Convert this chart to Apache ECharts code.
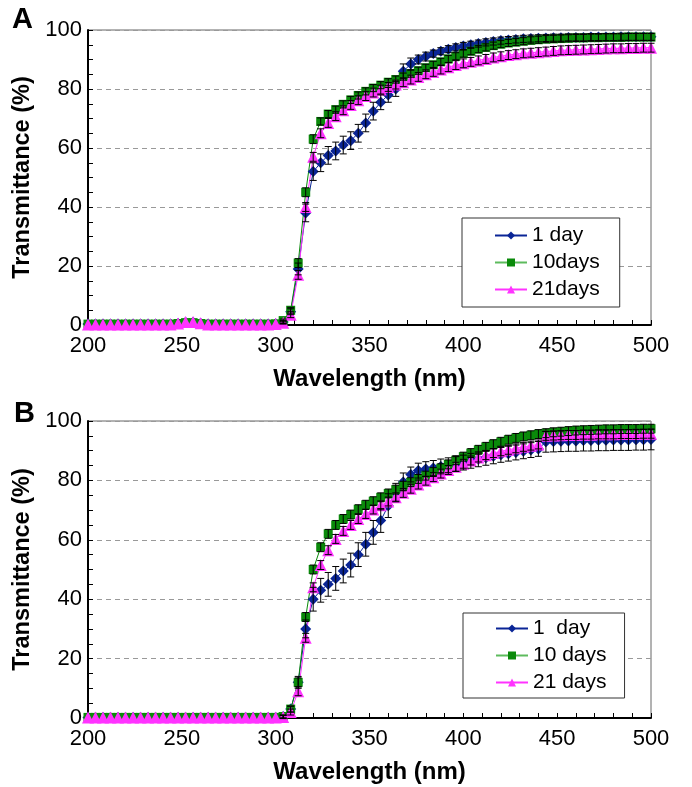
<!DOCTYPE html>
<html><head><meta charset="utf-8">
<script src="https://cdn.jsdelivr.net/npm/echarts@6/dist/echarts.min.js"></script>
<style>html,body{margin:0;padding:0;background:#fff}#c{width:692px;height:787px}</style>
</head><body><div id="c"></div>
<script>
const wavelength = [200,204,208,212,216,220,224,228,232,236,240,244,248,252,256,260,264,268,272,276,280,284,288,292,296,300,
 304,308,312,316,320,324,328,332,336,340,344,348,352,356,360,364,368,372,376,380,384,388,392,396,400,404,408,412,416,420,424,428,432,436,440,444,448,452,456,460,464,468,472,476,480,484,488,492,496,500];

// Panel A
const aDay1 = [0.3,0.3,0.3,0.3,0.3,0.3,0.3,0.3,0.3,0.3,0.3,0.3,0.5,0.9,0.9,0.6,0.3,0.3,0.3,0.3,0.3,0.3,0.3,0.3,0.3,0.4,
 1,4.5,19,38,52, 55,57.5,59,61,62.5,65,68.5,72.5,75.5,78, 80,86,88.5,90,91,92,92.8,93.5,94.1,94.6,
 95,95.4,95.8,96.1,96.4,96.6,96.8,97,97.1,97.2, 97.3,97.4,97.4,97.5,97.5,97.5,97.6,97.6,97.6,97.6, 97.7,97.7,97.7,97.7,97.7];
const aDay10 = [0.3,0.3,0.3,0.3,0.3,0.3,0.3,0.3,0.3,0.3,0.3,0.3,0.5,0.8,0.8,0.5,0.3,0.3,0.3,0.3,0.3,0.3,0.3,0.3,0.3,0.4,
 1.5,5,21,45,63, 69,71.5,73,74.8,76.3,77.8,79.2,80.3,81.3,82.3, 83.2,84.2,85.2,86.2,87.2,88.2,89.2,90.2,91.1,92,
 92.8,93.5,94.1,94.7,95.2,95.6,95.9,96.2,96.5,96.7, 96.9,97,97.1,97.2,97.3,97.3,97.4,97.4,97.5,97.5, 97.5,97.6,97.6,97.6,97.6];
const aDay21 = [0.2,0.2,0.2,0.2,0.2,0.2,0.2,0.2,0.2,0.2,0.2,0.2,0.5,1,1,0.6,0.2,0.2,0.2,0.2,0.2,0.2,0.2,0.2,0.2,0.3,
 0.8,3.5,17,40,57, 65,68.5,70.8,72.8,74.6,76.2,77.6,78.8,79.8,80.7, 81.5,82.3,83.2,84.1,85,85.8,86.6,87.4,88.1,88.7,
 89.2,89.7,90.2,90.7,91.1,91.5,91.8,92.1,92.3,92.5, 92.7,92.9,93.1,93.2,93.3,93.4,93.5,93.6,93.7,93.8, 93.8,93.9,93.9,94,94];
const aErr1 = [0,0,0,0,0,0,0,0,0,0,0,0,0,0,0,0,0,0,0,0,0,0,0,0,0,0,
 0.5,1,2,3,3, 3,3,3,3,3,3,3,3,2.5,2.5, 2.5,2.5,2,1.5,1.5,1.2,1.2,1.2,1.2,1.2,
 1.2,1.2,1.2,1.2,1.2,1.2,1.2,1.2,1.2,1.2, 1.2,1.2,1.2,1.2,1.2,1.2,1.2,1.2,1.2,1.2, 1.2,1.2,1.2,1.2,1.2];
const aErr10 = [0,0,0,0,0,0,0,0,0,0,0,0,0,0,0,0,0,0,0,0,0,0,0,0,0,0,
 0.5,1,1.5,1.5,1.5, 1.2,1.2,1.2,1.2,1.2,1.2,1.2,1.2,1.2,1.2, 1.2,1.2,1.2,1.2,1.2,1.2,1.2,1.2,1.2,1.2,
 1.2,1.2,1.2,1.2,1.2,1.2,1.2,1.2,1.2,1.2, 1.2,1.2,1.2,1.2,1.2,1.2,1.2,1.2,1.2,1.2, 1.2,1.2,1.2,1.2,1.2];
const aErr21 = [0,0,0,0,0,0,0,0,0,0,0,0,0,0,0,0,0,0,0,0,0,0,0,0,0,0,
 0.5,1,1.5,1.5,1.5, 1.5,1.5,1.5,1.5,1.5,1.5,1.5,1.5,1.5,1.5, 1.5,1.5,1.5,1.5,1.5,1.5,1.5,1.5,1.5,1.5,
 1.5,1.5,1.5,1.5,1.5,1.5,1.5,1.5,1.5,1.5, 1.5,1.5,1.5,1.5,1.5,1.5,1.5,1.5,1.5,1.5, 1.5,1.5,1.5,1.5,1.5];

// Panel B
const bDay1 = [0.2,0.2,0.2,0.2,0.2,0.2,0.2,0.2,0.2,0.2,0.2,0.2,0.2,0.2,0.2,0.2,0.2,0.2,0.2,0.2,0.2,0.2,0.2,0.2,0.2,0.2,
 0.5,3,12,30,40, 43,45,47,49.5,51.5,55,58.5,62.5,66.5,71.5, 76,79.5,82,83.3,83.8,84.2,84.7,85.1,85.5,86,
 86.6,87.1,87.6,88.1,88.6,89,89.4,89.8,90.2,90.6, 93,93.1,93.2,93.3,93.3,93.4,93.4,93.5,93.5,93.6, 93.6,93.6,93.7,93.7,93.8];
const bDay10 = [0.2,0.2,0.2,0.2,0.2,0.2,0.2,0.2,0.2,0.2,0.2,0.2,0.2,0.2,0.2,0.2,0.2,0.2,0.2,0.2,0.2,0.2,0.2,0.2,0.2,0.2,
 0.5,3,12,34,50, 57.5,62,65,67,68.5,70.3,71.8,73,74.3,75.6, 76.9,78.2,79.4,80.5,81.6,82.8,84.1,85.4,86.8,88,
 89.2,90.3,91.3,92.2,93,93.7,94.3,94.8,95.2,95.6, 95.9,96.2,96.4,96.6,96.8,96.9,97,97.1,97.2,97.2, 97.3,97.3,97.3,97.4,97.4];
const bDay21 = [0.2,0.2,0.2,0.2,0.2,0.2,0.2,0.2,0.2,0.2,0.2,0.2,0.2,0.2,0.2,0.2,0.2,0.2,0.2,0.2,0.2,0.2,0.2,0.2,0.2,0.2,
 0.3,2,9,27,44, 51.5,56.5,60.3,63,65,67,68.7,70.2,71.6,72.9, 74.3,75.8,77.2,78.6,79.9,81.1,82.3,83.5,84.6,85.6,
 86.7,87.7,88.5,89.2,89.8,90.3,90.8,91.3,91.7,92.1, 95,95.1,95.2,95.3,95.3,95.4,95.4,95.5,95.5,95.5, 95.6,95.6,95.6,95.7,95.7];
const bErr1 = [0,0,0,0,0,0,0,0,0,0,0,0,0,0,0,0,0,0,0,0,0,0,0,0,0,0,
 0.5,1,2,3,4, 4,4,4,4,4,4,4,4,4,4, 3,3,2.5,2.5,2.5,2.5,2.5,2.5,2.5,2.5,
 2.5,2.5,2.5,2.5,2.5,2.5,2.5,2.5,2.5,2.5, 3.5,3.5,3.5,3.5,3.5,3.5,3.5,3.5,3.5,3.5, 3.5,3.5,3.5,3.5,3.5];
const bErr10 = [0,0,0,0,0,0,0,0,0,0,0,0,0,0,0,0,0,0,0,0,0,0,0,0,0,0,
 0.5,1,1.5,1.5,1.5, 1.5,1.5,1.5,1.5,1.5,1.5,1.5,1.5,1.5,1.5, 1.5,1.5,1.5,1.5,1.5,1.5,1.5,1.5,1.5,1.5,
 1.5,1.5,1.5,1.5,1.5,1.5,1.5,1.5,1.5,1.5, 1.5,1.5,1.5,1.5,1.5,1.5,1.5,1.5,1.5,1.5, 1.5,1.5,1.5,1.5,1.5];
const bErr21 = [0,0,0,0,0,0,0,0,0,0,0,0,0,0,0,0,0,0,0,0,0,0,0,0,0,0,
 0.5,1,1.5,1.5,1.5, 1.5,1.5,1.5,1.5,1.5,1.5,1.5,1.5,1.5,1.5, 1.5,1.5,1.5,1.5,1.5,1.5,1.5,1.5,1.5,1.5,
 1.5,1.5,1.5,1.5,1.5,1.5,1.5,1.5,1.5,1.5, 1.5,1.5,1.5,1.5,1.5,1.5,1.5,1.5,1.5,1.5, 1.5,1.5,1.5,1.5,1.5];

const namesA = ['1 day', '10days', '21days'];
const namesB = ['1  day', '10 days', '21 days'];
const xTicks = [200, 500, 50];
const yTicks = [0, 100, 20];

const FONT = 'Arial, "Liberation Sans", sans-serif';
const BLUE = '#0A2596', GREEN = '#0A8A0A', PINK = '#FF33FF', LGREEN = '#5DBB5D';

function pairs(v) { return wavelength.map((x, i) => [x, v[i]]); }
function triples(v, e) { return wavelength.map((x, i) => [x, v[i], e[i]]); }

function errRender(params, api) {
  const x = api.value(0), y = api.value(1), e = api.value(2);
  if (!e) return null;
  const t = api.coord([x, y + e]), b = api.coord([x, y - e]);
  const w = 3.5, st = { stroke: '#000', lineWidth: 1 };
  return { type: 'group', children: [
    { type: 'line', shape: { x1: t[0], y1: t[1], x2: b[0], y2: b[1] }, style: st },
    { type: 'line', shape: { x1: t[0] - w, y1: t[1], x2: t[0] + w, y2: t[1] }, style: st },
    { type: 'line', shape: { x1: b[0] - w, y1: b[1], x2: b[0] + w, y2: b[1] }, style: st }
  ]};
}

function xAxis(gi) {
  return {
    type: 'value', gridIndex: gi, min: xTicks[0], max: xTicks[1], interval: xTicks[2],
    name: 'Wavelength (nm)', nameLocation: 'middle', nameGap: 42,
    nameTextStyle: { fontFamily: FONT, fontSize: 24, fontWeight: 'bold', color: '#000' },
    axisLine: { onZero: false, lineStyle: { color: '#000', width: 2 } },
    axisTick: { inside: true, length: 5, lineStyle: { color: '#000' } },
    minorTick: { show: true, splitNumber: 5, length: 5, lineStyle: { color: '#000' } },
    axisLabel: { fontFamily: FONT, fontSize: 22, color: '#000', margin: 10 },
    splitLine: { show: false }
  };
}
function yAxis(gi) {
  return {
    type: 'value', gridIndex: gi, min: yTicks[0], max: yTicks[1], interval: yTicks[2],
    name: 'Transmittance (%)', nameLocation: 'middle', nameGap: 46,
    nameTextStyle: { fontFamily: FONT, fontSize: 23.5, fontWeight: 'bold', color: '#000' },
    axisLine: { lineStyle: { color: '#000', width: 2 } },
    axisTick: { inside: true, length: 5, lineStyle: { color: '#000' } },
    minorTick: { show: true, splitNumber: 4, length: 5, lineStyle: { color: '#000' } },
    axisLabel: { fontFamily: FONT, fontSize: 22, color: '#000', margin: 6 },
    splitLine: { show: true, lineStyle: { color: '#999', type: [5, 4], width: 1 } }
  };
}
function lineSeries(name, gi, v, color, symbol, size) {
  return {
    type: 'line', name, xAxisIndex: gi, yAxisIndex: gi, data: pairs(v),
    symbol, symbolSize: size, showSymbol: true, showAllSymbol: true,
    itemStyle: { color }, lineStyle: { color, width: 1 }, z: 2
  };
}
function errSeries(gi, v, e) {
  return { type: 'custom', xAxisIndex: gi, yAxisIndex: gi, data: triples(v, e),
    renderItem: errRender, silent: true, z: 3, clip: false };
}
function legend(names, left, top, pad) {
  return {
    orient: 'vertical', left, top, padding: pad, itemGap: 6, itemWidth: 32, itemHeight: 10,
    borderColor: '#333', borderWidth: 1, backgroundColor: '#fff', selectedMode: false,
    textStyle: { fontFamily: FONT, fontSize: 21, color: '#000' },
    data: [
      { name: names[0], itemStyle: { color: BLUE }, lineStyle: { color: BLUE } },
      { name: names[1], itemStyle: { color: GREEN }, lineStyle: { color: LGREEN } },
      { name: names[2], itemStyle: { color: PINK }, lineStyle: { color: PINK } }
    ]
  };
}

const chart = echarts.init(document.getElementById('c'), null, { renderer: 'canvas' });
chart.setOption({
  animation: false,
  backgroundColor: '#fff',
  grid: [
    { left: 88, right: 41, top: 30, height: 295, show: true, borderColor: '#666', borderWidth: 1 },
    { left: 88, right: 41, top: 421, height: 297, show: true, borderColor: '#666', borderWidth: 1 }
  ],
  xAxis: [xAxis(0), xAxis(1)],
  yAxis: [yAxis(0), yAxis(1)],
  legend: [legend(namesA, 462, 218, [7, 20, 7, 32]), legend(namesB, 463, 613, [5, 18, 5, 32])],
  graphic: [
    { type: 'text', left: 12, top: 5, style: { text: 'A', font: 'bold 29px ' + FONT, fill: '#000' } },
    { type: 'text', left: 14, top: 399, style: { text: 'B', font: 'bold 29px ' + FONT, fill: '#000' } }
  ],
  series: [
    lineSeries(namesA[0], 0, aDay1, BLUE, 'diamond', 11),
    lineSeries(namesA[1], 0, aDay10, GREEN, 'rect', 9),
    lineSeries(namesA[2], 0, aDay21, PINK, 'triangle', 12),
    errSeries(0, aDay1, aErr1), errSeries(0, aDay10, aErr10), errSeries(0, aDay21, aErr21),
    lineSeries(namesB[0], 1, bDay1, BLUE, 'diamond', 11),
    lineSeries(namesB[1], 1, bDay10, GREEN, 'rect', 9),
    lineSeries(namesB[2], 1, bDay21, PINK, 'triangle', 12),
    errSeries(1, bDay1, bErr1), errSeries(1, bDay10, bErr10), errSeries(1, bDay21, bErr21)
  ]
});
</script></body></html>
